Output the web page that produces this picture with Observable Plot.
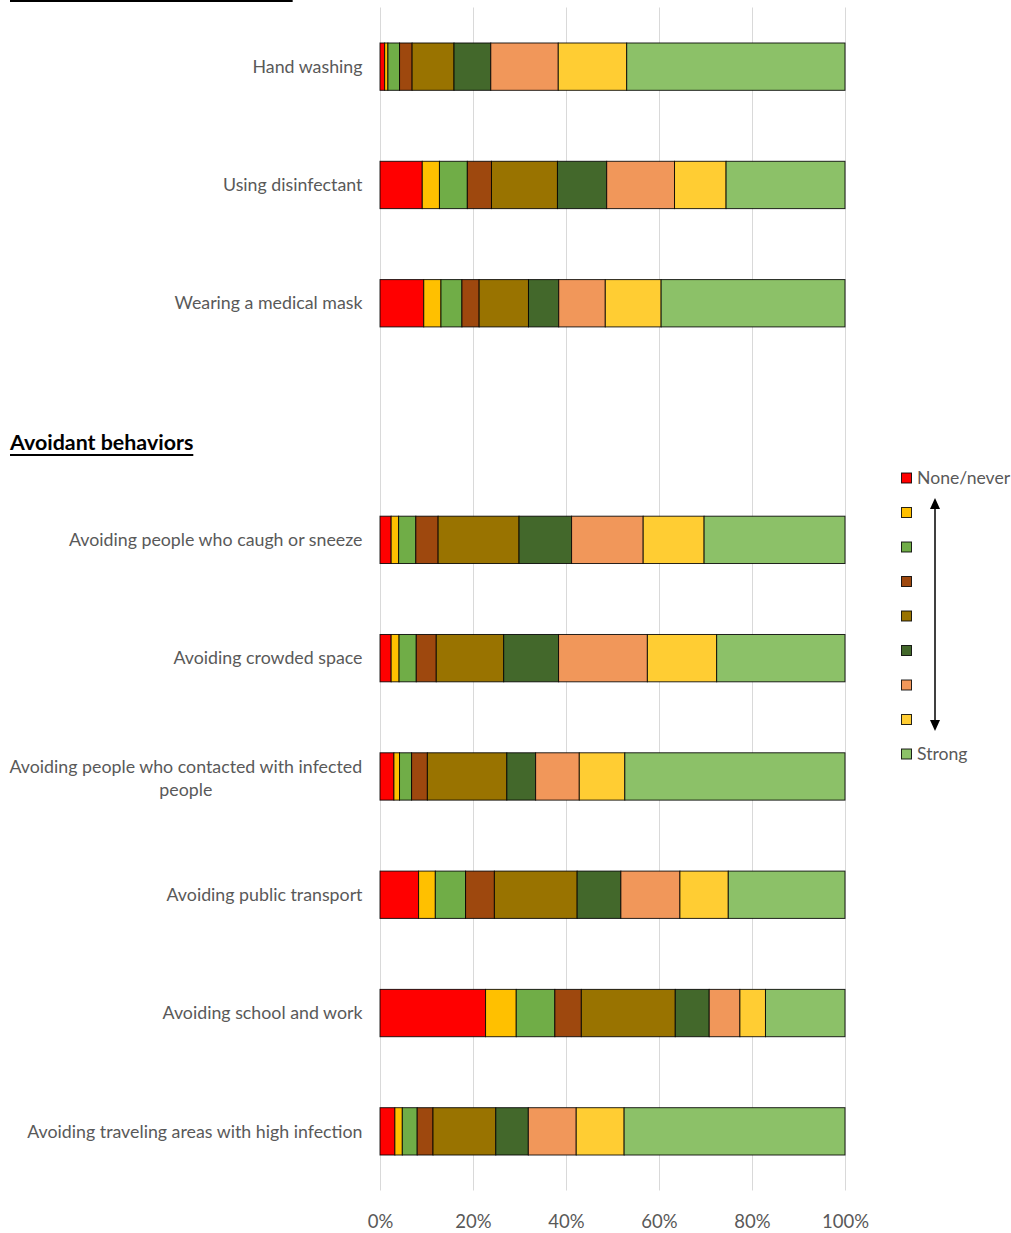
<!DOCTYPE html>
<html>
<head>
<meta charset="utf-8">
<script src="https://cdn.jsdelivr.net/npm/d3@7"></script>
<script src="https://cdn.jsdelivr.net/npm/@observablehq/plot@0.6"></script>
<style>
  body { margin: 0; background: #fff; font-family: Lato, "Open Sans", sans-serif; }
  #wrap { position: relative; width: 1011px; height: 1233px; overflow: hidden; }
  #wrap > svg { position: absolute; left: 0; top: 0; }
  .section {
    position: absolute; left: 10px; margin: 0;
    font-weight: bold; font-size: 21.4px; line-height: 21px; color: #000;
    text-decoration: underline; text-decoration-thickness: 2px;
    text-underline-offset: 4px;
    text-decoration-skip-ink: none; white-space: nowrap;
  }
</style>
</head>
<body>
<div id="wrap"></div>
<script>
// Behaviours, top to bottom; the first three are protective, the rest avoidant
const categories = [
  "Hand washing",
  "Using disinfectant",
  "Wearing a medical mask",
  "Avoiding people who caugh or sneeze",
  "Avoiding crowded space",
  "Avoiding people who contacted with infected\npeople",
  "Avoiding public transport",
  "Avoiding school and work",
  "Avoiding traveling areas with high infection"
];
const sectionTitles = ["Personal protective behaviors", "Avoidant behaviors"];

// Nine response levels, from none/never to strong
const levels = ["L1", "L2", "L3", "L4", "L5", "L6", "L7", "L8", "L9"];
const levelLabels = ["None/never", "", "", "", "", "", "", "", "Strong"];
const levelColors = ["#FF0000", "#FFC000", "#70AD47", "#9E480E", "#997300", "#43682B", "#F1975A", "#FFCD33", "#8CC168"];

// Share of respondents (%) at each level, one row per behaviour
const shares = [
  [1.0, 0.7, 2.5, 2.7,  9.0,  7.9, 14.5, 14.7, 46.9],
  [9.1, 3.7, 6.0, 5.2, 14.2, 10.6, 14.6, 11.1, 25.6],
  [9.4, 3.7, 4.5, 3.7, 10.6,  6.5, 10.0, 12.0, 39.5],
  [2.4, 1.6, 3.7, 4.8, 17.4, 11.3, 15.4, 13.1, 30.3],
  [2.4, 1.7, 3.7, 4.3, 14.5, 11.8, 19.1, 14.9, 27.6],
  [3.0, 1.2, 2.6, 3.4, 17.1,  6.2,  9.4,  9.8, 47.4],
  [8.3, 3.6, 6.5, 6.2, 17.8,  9.4, 12.7, 10.4, 25.1],
  [22.7, 6.6, 8.3, 5.7, 20.2, 7.3,  6.6,  5.5, 17.1],
  [3.2, 1.6, 3.2, 3.4, 13.5,  7.0, 10.3, 10.3, 47.5]
];

const xTicks = [0, 0.2, 0.4, 0.6, 0.8, 1];

// Tidy rows for the stacked bars
const rows = categories.flatMap((c, i) =>
  shares[i].map((v, j) => ({category: c, level: levels[j], share: v}))
);

// An empty band separates the two groups of behaviours
const spacer = " ";
const yDomain = [...categories.slice(0, 3), spacer, ...categories.slice(3)];

const labelSize = 17.8;
const singleLine = categories.filter(c => !c.includes("\n"));
const multiLine = categories.filter(c => c.includes("\n"));

// Width of the longest line of a wrapped label, to centre its lines as a block
const ctx = document.createElement("canvas").getContext("2d");
ctx.font = `${labelSize}px Lato`;
const blockWidth = s => d3.max(s.split("\n"), line => ctx.measureText(line).width);

const labelGap = 18;
const pct = d3.format(".0%");

const chart = Plot.plot({
  width: 1011,
  height: 1233,
  marginLeft: 380,
  marginRight: 166,
  marginTop: 7.5,
  marginBottom: 42.5,
  style: {fontFamily: "Lato, 'Open Sans', sans-serif", background: "transparent", overflow: "visible"},
  x: {domain: [0, 1], label: null},
  y: {domain: yDomain, paddingInner: 0.6, paddingOuter: 0.3, round: false, axis: null},
  color: {domain: levels, range: levelColors},
  marks: [
    Plot.gridX(xTicks, {stroke: "#d9d9d9", strokeOpacity: 1, strokeWidth: 1}),
    Plot.barX(rows, {
      x: "share", y: "category", fill: "level", offset: "normalize",
      stroke: "#000", strokeOpacity: 0.85, strokeWidth: 1
    }),
    Plot.axisX(xTicks, {
      tickSize: 0, tickPadding: 24, fontSize: 18.5, color: "#595959",
      tickFormat: pct, label: null
    }),
    Plot.text(singleLine, {
      y: d => d, frameAnchor: "left", textAnchor: "end", dx: -labelGap,
      fontSize: labelSize, fill: "#595959"
    }),
    ...multiLine.map(label => Plot.text([label], {
      y: d => d, frameAnchor: "left", textAnchor: "middle",
      dx: -labelGap - blockWidth(label) / 2,
      fontSize: labelSize, lineHeight: 1.3, fill: "#595959"
    }))
  ]
});

const wrap = document.getElementById("wrap");
wrap.appendChild(chart);

// Group headings; the first sits above the top edge, only its underline showing
const topTitle = document.createElement("div");
topTitle.className = "section";
topTitle.style.top = "-22.5px";
topTitle.textContent = sectionTitles[0];
wrap.appendChild(topTitle);

const avoidTitle = document.createElement("div");
avoidTitle.className = "section";
avoidTitle.style.top = "432px";
avoidTitle.textContent = sectionTitles[1];
wrap.appendChild(avoidTitle);

// Level legend with a double-headed arrow spanning the scale
const legend = d3.create("svg")
  .attr("width", 1011).attr("height", 1233)
  .style("position", "absolute").style("left", "0px").style("top", "0px")
  .style("pointer-events", "none");

const legendTop = 478, legendStep = 34.5;
const item = legend.selectAll("g").data(levels).join("g")
  .attr("transform", (d, i) => `translate(901,${legendTop + i * legendStep})`);
item.append("rect")
  .attr("x", 0.5).attr("y", -5)
  .attr("width", 10).attr("height", 10)
  .attr("fill", (d, i) => levelColors[i])
  .attr("stroke", "#000").attr("stroke-opacity", 0.85);
item.append("text")
  .attr("x", 16).attr("y", 0).attr("dy", "0.35em")
  .attr("font-family", "Lato, 'Open Sans', sans-serif")
  .attr("font-size", 17.6).attr("fill", "#595959")
  .text((d, i) => levelLabels[i]);

const ax = 935, aTop = 498, aBottom = 731;
legend.append("line")
  .attr("x1", ax).attr("x2", ax).attr("y1", aTop + 8).attr("y2", aBottom - 8)
  .attr("stroke", "#000").attr("stroke-width", 1.5);
legend.append("path")
  .attr("d", `M${ax},${aTop} L${ax - 5},${aTop + 11} L${ax + 5},${aTop + 11} Z`)
  .attr("fill", "#000");
legend.append("path")
  .attr("d", `M${ax},${aBottom} L${ax - 5},${aBottom - 11} L${ax + 5},${aBottom - 11} Z`)
  .attr("fill", "#000");

wrap.appendChild(legend.node());
</script>
</body>
</html>
